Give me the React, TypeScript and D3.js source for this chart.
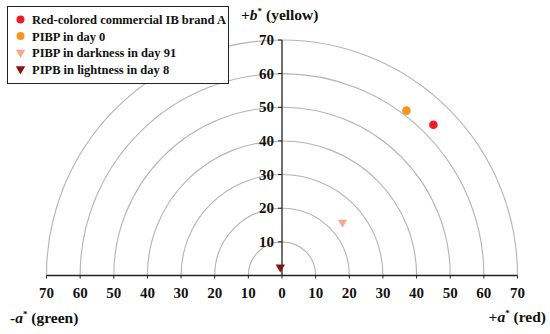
import React from "react";
import * as d3 from "d3";

const radii = [10, 20, 30, 40, 50, 60, 70];
const xTicks = [-70, -60, -50, -40, -30, -20, -10, 0, 10, 20, 30, 40, 50, 60, 70];
const yTicks = [10, 20, 30, 40, 50, 60, 70];

const seriesNames = [
  "Red-colored commercial IB brand A",
  "PIBP in day 0",
  "PIBP in darkness in day 91",
  "PIPB in lightness in day 8",
];
const seriesA = [45, 37, 18, -0.5];
const seriesB = [44.8, 49, 15.8, 2.5];
const seriesColors = ["#ee1c24", "#f7931e", "#f9a98a", "#8b1010"];
const seriesShapes = ["circle", "circle", "triangle", "triangle"];

const W = 550;
const H = 334;
const cx = 282;
const cy = 275.5;
const R = 235.5;

const FONT = "'Liberation Serif', serif";

export default function App() {
  const x = d3.scaleLinear().domain([-70, 70]).range([cx - R, cx + R]);
  const y = d3.scaleLinear().domain([0, 70]).range([cy, cy - R]);
  const k = R / 70;
  const arc = d3.arc();
  const tri = d3.symbol().type(d3.symbolTriangle).size(38)();

  const marker = (i: number, px: number, py: number, r: number) =>
    seriesShapes[i] === "circle" ? (
      <circle cx={px} cy={py} r={r} fill={seriesColors[i]} />
    ) : (
      <path d={tri} transform={`translate(${px},${py}) rotate(180)`} fill={seriesColors[i]} />
    );

  return (
    <svg width={W} height={H} style={{ position: "absolute", left: 0, top: 0, background: "#fff" }}>
      {radii.map((r) => (
        <path
          key={r}
          d={arc({ innerRadius: r * k, outerRadius: r * k, startAngle: -Math.PI / 2, endAngle: Math.PI / 2 }) as string}
          transform={`translate(${cx},${cy})`}
          fill="none"
          stroke="#b4b4b4"
          strokeWidth={1.1}
        />
      ))}
      {/* x axis */}
      <line x1={x(-70)} x2={x(70)} y1={cy} y2={cy} stroke="#222" strokeWidth={1.3} />
      {xTicks.map((t) => (
        <g key={t}>
          <line x1={x(t)} x2={x(t)} y1={cy} y2={cy + 3} stroke="#222" strokeWidth={1} />
          <text x={x(t)} y={cy + 22} textAnchor="middle" fontFamily={FONT} fontWeight="bold" fontSize={15} fill="#111">
            {Math.abs(t)}
          </text>
        </g>
      ))}
      {/* y axis */}
      <line x1={cx} x2={cx} y1={cy} y2={y(70)} stroke="#222" strokeWidth={1.3} />
      {yTicks.map((t) => (
        <g key={t}>
          <line x1={cx - 4} x2={cx} y1={y(t)} y2={y(t)} stroke="#222" strokeWidth={1} />
          <text x={cx - 8} y={y(t) + 5} textAnchor="end" fontFamily={FONT} fontWeight="bold" fontSize={15} fill="#111">
            {t}
          </text>
        </g>
      ))}
      {/* axis titles */}
      <text x={241} y={20} fontFamily={FONT} fontWeight="bold" fontSize={15.5} fill="#111">
        +<tspan fontStyle="italic">b</tspan>
        <tspan fontSize={9} dy={-6}>*</tspan>
        <tspan dy={6}> (yellow)</tspan>
      </text>
      <text x={10} y={323} fontFamily={FONT} fontWeight="bold" fontSize={15.5} fill="#111">
        -<tspan fontStyle="italic">a</tspan>
        <tspan fontSize={9} dy={-6}>*</tspan>
        <tspan dy={6}> (green)</tspan>
      </text>
      <text x={546} y={322} textAnchor="end" fontFamily={FONT} fontWeight="bold" fontSize={15.5} fill="#111">
        +<tspan fontStyle="italic">a</tspan>
        <tspan fontSize={9} dy={-6}>*</tspan>
        <tspan dy={6}> (red)</tspan>
      </text>
      {/* data */}
      {seriesA.map((a, i) => (
        <g key={i}>{marker(i, x(a), y(seriesB[i]), 4.3)}</g>
      ))}
      {/* legend */}
      <rect x={7.5} y={6.5} width={221} height={77} fill="#fff" stroke="#222" strokeWidth={1} />
      {seriesNames.map((n, i) => (
        <g key={n} transform={`translate(0,${19.5 + i * 16.5})`}>
          {marker(i, 20.5, 0, 4)}
          <text x={32} y={4.5} fontFamily={FONT} fontWeight="bold" fontSize={12.5} fill="#111">
            {n}
          </text>
        </g>
      ))}
    </svg>
  );
}
